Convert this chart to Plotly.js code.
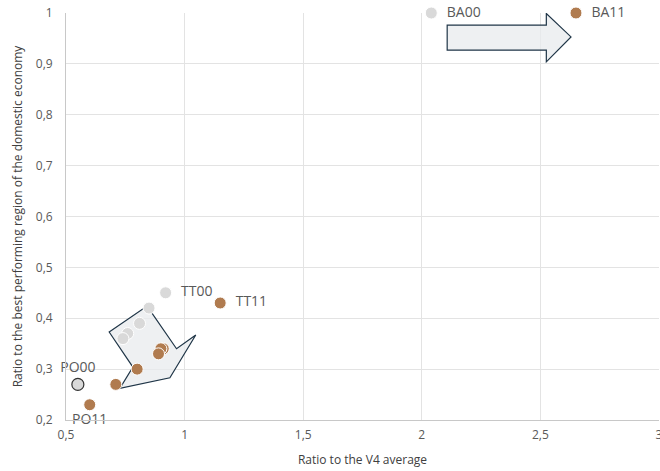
<!DOCTYPE html>
<html>
<head>
<meta charset="utf-8">
<script src="https://cdn.plot.ly/plotly-3.0.1.min.js"></script>
<style>html,body{margin:0;padding:0;background:#fff;}#chart{width:660px;height:471px;}</style>
</head>
<body>
<div id="chart"></div>
<script>
// 2000 values (grey)
const x2000 = [2.04, 0.92, 0.85, 0.81, 0.76, 0.74, 0.55];
const y2000 = [1.00, 0.45, 0.42, 0.39, 0.37, 0.36, 0.27];
const lab2000 = ["BA00", "TT00", "", "", "", "", "PO00"];
// 2011 values (brown)
const x2011 = [2.65, 1.15, 0.91, 0.90, 0.89, 0.80, 0.71, 0.60];
const y2011 = [1.00, 0.43, 0.34, 0.34, 0.33, 0.30, 0.27, 0.23];
const lab2011 = ["BA11", "TT11", "", "", "", "", "", "PO11"];
// arrow outlines (data units)
const arrowTopX = [2.107, 2.525, 2.525, 2.629, 2.525, 2.525, 2.107];
const arrowTopY = [0.976, 0.976, 0.999, 0.953, 0.904, 0.927, 0.927];
const arrowLowX = [0.682, 0.842, 0.966, 1.047, 0.938, 0.727, 0.782];
const arrowLowY = [0.373, 0.424, 0.340, 0.367, 0.283, 0.262, 0.304];

function pathOf(xs, ys){
  return xs.map((v,i)=>(i?'L':'M')+v+','+ys[i]).join(' ')+' Z';
}
const font = "'Open Sans', 'DejaVu Sans', sans-serif";
function padLabels(labs, posFn){
  return labs.map((t,i)=> (t && posFn(i)==='middle right') ? '\u2002' + t : t);
}
const posG = i => i===6 ? 'top center' : 'middle right';
const posB = i => i===7 ? 'bottom center' : 'middle right';

const grey = {
  x: x2000, y: y2000, text: padLabels(lab2000, posG), type: 'scatter', mode: 'markers+text',
  textposition: x2000.map((v,i)=> posG(i)),
  textfont: {family: font, size: 14, color: '#595959'},
  marker: {size: 12, color: '#d9d9d9',
    line: {color: x2000.map((v,i)=> i===6 ? '#333333' : '#ffffff'), width: x2000.map((v,i)=> i===6 ? 1.2 : 1)}},
  hoverinfo: 'x+y', showlegend: false, cliponaxis: false
};
const brown = {
  x: x2011, y: y2011, text: padLabels(lab2011, posB), type: 'scatter', mode: 'markers+text',
  textposition: x2011.map((v,i)=> posB(i)),
  textfont: {family: font, size: 14, color: '#595959'},
  marker: {size: 12, color: '#b07b4f', line: {color: '#ffffff', width: 1}},
  hoverinfo: 'x+y', showlegend: false, cliponaxis: false
};

const layout = {
  width: 660, height: 471,
  margin: {l: 66, r: 1, t: 13, b: 51},
  paper_bgcolor: '#ffffff', plot_bgcolor: '#ffffff',
  separators: ',.',
  font: {family: font, size: 12, color: '#595959'},
  xaxis: {
    range: [0.5, 3], tickvals: [0.5, 1, 1.5, 2, 2.5, 3], ticktext: ['0,5','1','1,5','2','2,5','3'],
    showgrid: true, gridcolor: '#e3e3e3', gridwidth: 1,
    showline: true, linecolor: '#c8c8c8', linewidth: 1,
    zeroline: false, ticks: '', ticklabelstandoff: 4, ticklabeloverflow: 'allow',
    tickfont: {size: 12, color: '#595959'},
    title: {text: 'Ratio to the V4 average', font: {size: 12, color: '#404040'}, standoff: 13}
  },
  yaxis: {
    range: [0.2, 1], tickvals: [0.2,0.3,0.4,0.5,0.6,0.7,0.8,0.9,1],
    ticktext: ['0,2','0,3','0,4','0,5','0,6','0,7','0,8','0,9','1'],
    showgrid: true, gridcolor: '#e3e3e3', gridwidth: 1,
    showline: true, linecolor: '#c8c8c8', linewidth: 1,
    zeroline: false, ticks: '', ticklabelstandoff: 10, ticklabeloverflow: 'allow',
    tickfont: {size: 12, color: '#595959'},
    title: {text: 'Ratio to the best performing region of the domestic economy', font: {size: 12, color: '#404040'}, standoff: 10}
  },
  shapes: [
    {type: 'path', xref: 'x', yref: 'y', path: pathOf(arrowTopX, arrowTopY),
     fillcolor: 'rgba(232,235,238,0.75)', line: {color: '#1f3547', width: 1.2}, layer: 'between'},
    {type: 'path', xref: 'x', yref: 'y', path: pathOf(arrowLowX, arrowLowY),
     fillcolor: 'rgba(232,235,238,0.75)', line: {color: '#1f3547', width: 1.2}, layer: 'between'}
  ]
};
Plotly.newPlot('chart', [grey, brown], layout, {displayModeBar: false, staticPlot: true});
</script>
</body>
</html>
